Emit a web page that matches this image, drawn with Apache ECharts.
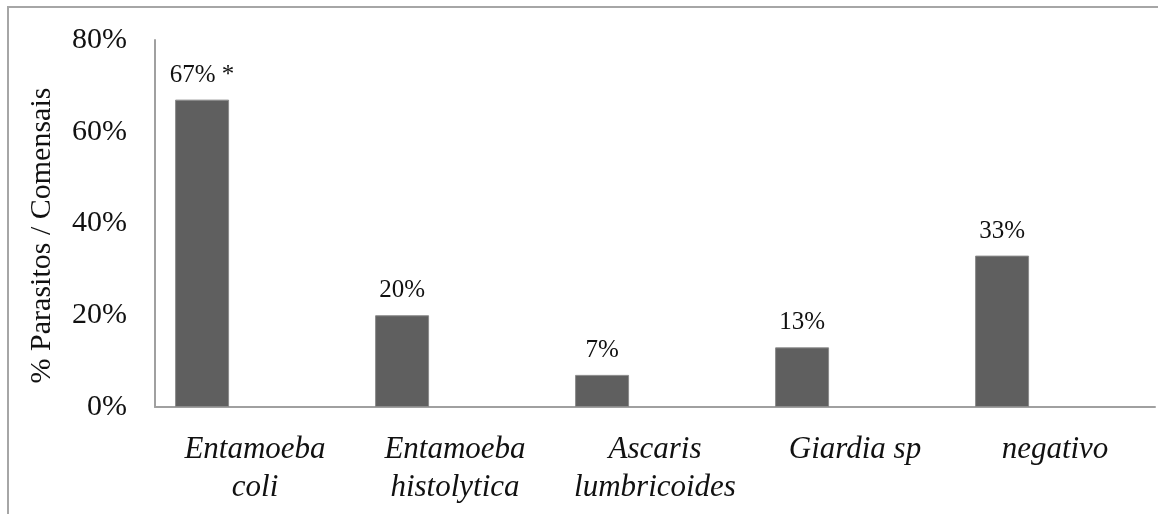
<!DOCTYPE html>
<html>
<head>
<meta charset="utf-8">
<script src="https://cdn.jsdelivr.net/npm/echarts@6/dist/echarts.min.js"></script>
<style>
html,body{margin:0;padding:0;background:#fff;}
#chart{width:1158px;height:514px;}
</style>
</head>
<body>
<div id="chart"></div>
<script>
var categories = ['Entamoeba\ncoli', 'Entamoeba\nhistolytica', 'Ascaris\nlumbricoides', 'Giardia sp', 'negativo'];
var values = [67, 20, 7, 13, 33];
var valueLabels = ['67% *', '20%', '7%', '13%', '33%'];
var yTicks = [0, 20, 40, 60, 80];
var emptySeries = ['-', '-', '-', '-', '-'];

var chart = echarts.init(document.getElementById('chart'), null, {renderer: 'canvas'});
var serif = '"Liberation Serif", "Times New Roman", serif';
chart.setOption({
  animation: false,
  backgroundColor: '#ffffff',
  graphic: [{
    type: 'rect',
    shape: {x: 8, y: 7, width: 1200, height: 600},
    style: {fill: 'none', stroke: '#a6a6a6', lineWidth: 2},
    silent: true
  }],
  grid: {left: 155, top: 40, right: 3, bottom: 107, containLabel: false},
  xAxis: {
    type: 'category',
    data: categories,
    axisLine: {show: true, lineStyle: {color: '#a0a0a0', width: 2}},
    axisTick: {show: false},
    axisLabel: {
      interval: 0,
      margin: 24,
      fontFamily: serif,
      fontStyle: 'italic',
      fontSize: 31,
      lineHeight: 38,
      color: '#111111'
    }
  },
  yAxis: {
    type: 'value',
    min: yTicks[0],
    max: yTicks[yTicks.length - 1],
    interval: 20,
    name: '% Parasitos / Comensais',
    nameLocation: 'middle',
    nameGap: 98,
    nameTextStyle: {fontFamily: serif, fontSize: 30, color: '#111111', padding: [0, 24, 0, 0]},
    axisLine: {show: true, lineStyle: {color: '#a0a0a0', width: 2}},
    axisTick: {show: false},
    splitLine: {show: false},
    axisLabel: {
      formatter: '{value}%',
      margin: 28,
      fontFamily: serif,
      fontSize: 30,
      color: '#111111'
    }
  },
  series: [{
    type: 'bar',
    data: values,
    barWidth: 54,
    barGap: '96%',
    itemStyle: {color: '#5f5f5f', borderColor: '#8a8a8a', borderWidth: 1},
    label: {
      show: true,
      position: 'top',
      distance: 12,
      formatter: function (p) { return valueLabels[p.dataIndex]; },
      fontFamily: serif,
      fontSize: 25,
      color: '#111111'
    }
  }, {
    type: 'bar',
    data: emptySeries,
    barWidth: 54
  }]
});
</script>
</body>
</html>
